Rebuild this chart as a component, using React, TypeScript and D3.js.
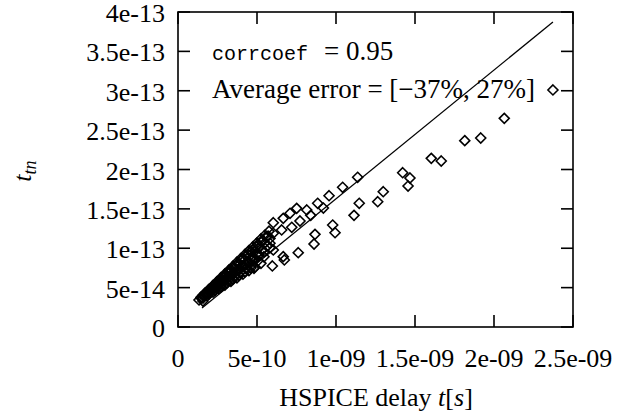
import React from 'react';
import * as d3 from 'd3';

const xTicks = [0, 5e-10, 1e-9, 1.5e-9, 2e-9, 2.5e-9];
const xTickLabels = ['0', '5e-10', '1e-09', '1.5e-09', '2e-09', '2.5e-09'];
const yTicks = [0, 5e-14, 1e-13, 1.5e-13, 2e-13, 2.5e-13, 3e-13, 3.5e-13, 4e-13];
const yTickLabels = ['0', '5e-14', '1e-13', '1.5e-13', '2e-13', '2.5e-13', '3e-13', '3.5e-13', '4e-13'];

// HSPICE delay (s)
const hspiceDelay = [
  2.373e-9, 2.065e-9, 1.916e-9, 1.815e-9, 1.666e-9, 1.603e-9, 1.422e-9, 1.468e-9, 1.456e-9,
  1.299e-9, 1.264e-9, 1.147e-9, 1.114e-9, 0.979e-9, 0.994e-9, 0.867e-9, 0.861e-9, 0.761e-9,
  0.673e-9, 0.597e-9, 0.481e-9,
  1.137e-9, 1.042e-9, 0.956e-9, 0.884e-9, 0.920e-9, 0.815e-9, 0.751e-9, 0.840e-9, 0.772e-9,
  0.720e-9, 0.709e-9, 0.666e-9, 0.656e-9, 0.603e-9, 0.666e-9, 0.582e-9, 0.603e-9, 0.603e-9,
  0.146e-9, 0.171e-9, 0.196e-9, 0.222e-9, 0.247e-9, 0.272e-9, 0.297e-9, 0.323e-9, 0.348e-9,
  0.373e-9, 0.399e-9, 0.424e-9, 0.449e-9, 0.475e-9, 0.500e-9, 0.525e-9, 0.551e-9, 0.576e-9,
  0.177e-9, 0.209e-9, 0.241e-9, 0.272e-9, 0.304e-9, 0.335e-9, 0.367e-9, 0.399e-9, 0.430e-9,
  0.462e-9, 0.494e-9, 0.525e-9, 0.557e-9,
  0.158e-9, 0.190e-9, 0.222e-9, 0.253e-9, 0.285e-9, 0.316e-9, 0.348e-9, 0.380e-9, 0.411e-9,
  0.443e-9, 0.475e-9, 0.506e-9, 0.538e-9, 0.570e-9,
  0.171e-9, 0.203e-9, 0.234e-9, 0.266e-9, 0.297e-9, 0.329e-9, 0.361e-9, 0.392e-9, 0.424e-9,
  0.456e-9, 0.487e-9, 0.519e-9, 0.551e-9, 0.582e-9,
  0.184e-9, 0.215e-9, 0.247e-9, 0.278e-9, 0.310e-9, 0.342e-9, 0.373e-9, 0.405e-9, 0.437e-9,
  0.468e-9, 0.500e-9, 0.532e-9, 0.563e-9,
  0.165e-9, 0.196e-9, 0.228e-9, 0.259e-9, 0.291e-9, 0.323e-9, 0.354e-9, 0.386e-9, 0.418e-9,
  0.449e-9, 0.481e-9, 0.513e-9,
  0.165e-9, 0.203e-9, 0.241e-9, 0.278e-9, 0.316e-9, 0.354e-9, 0.392e-9, 0.430e-9, 0.468e-9,
  0.506e-9, 0.544e-9, 0.582e-9,
  0.203e-9, 0.241e-9, 0.278e-9, 0.316e-9, 0.354e-9, 0.392e-9, 0.430e-9, 0.468e-9, 0.506e-9,
  0.544e-9,
  0.158e-9, 0.196e-9, 0.234e-9, 0.272e-9, 0.310e-9, 0.348e-9, 0.386e-9, 0.424e-9, 0.462e-9,
  0.184e-9, 0.222e-9, 0.259e-9, 0.297e-9, 0.335e-9, 0.373e-9, 0.411e-9, 0.449e-9, 0.487e-9,
  0.525e-9,
  0.133e-9, 0.158e-9, 0.146e-9,
];

// t_tn (s)
const ttn = [
  3.010e-13, 2.650e-13, 2.400e-13, 2.366e-13, 2.108e-13, 2.142e-13, 1.959e-13, 1.892e-13, 1.790e-13,
  1.718e-13, 1.591e-13, 1.571e-13, 1.418e-13, 1.295e-13, 1.197e-13, 1.177e-13, 1.054e-13, 0.943e-13,
  0.851e-13, 0.775e-13, 0.745e-13,
  1.901e-13, 1.774e-13, 1.667e-13, 1.571e-13, 1.511e-13, 1.486e-13, 1.507e-13, 1.418e-13, 1.346e-13,
  1.266e-13, 1.444e-13, 1.380e-13, 1.232e-13, 1.190e-13, 0.893e-13, 1.063e-13, 0.978e-13, 1.324e-13,
  0.379e-13, 0.429e-13, 0.478e-13, 0.527e-13, 0.577e-13, 0.626e-13, 0.675e-13, 0.724e-13, 0.773e-13,
  0.823e-13, 0.872e-13, 0.922e-13, 0.970e-13, 1.020e-13, 1.069e-13, 1.119e-13, 1.168e-13, 1.217e-13,
  0.427e-13, 0.487e-13, 0.547e-13, 0.606e-13, 0.666e-13, 0.726e-13, 0.785e-13, 0.845e-13, 0.905e-13,
  0.964e-13, 1.024e-13, 1.084e-13, 1.143e-13,
  0.403e-13, 0.461e-13, 0.518e-13, 0.576e-13, 0.634e-13, 0.692e-13, 0.750e-13, 0.807e-13, 0.865e-13,
  0.923e-13, 0.981e-13, 1.038e-13, 1.096e-13, 1.154e-13,
  0.422e-13, 0.476e-13, 0.530e-13, 0.584e-13, 0.638e-13, 0.692e-13, 0.746e-13, 0.800e-13, 0.854e-13,
  0.908e-13, 0.962e-13, 1.016e-13, 1.070e-13, 1.124e-13,
  0.431e-13, 0.481e-13, 0.530e-13, 0.580e-13, 0.629e-13, 0.679e-13, 0.728e-13, 0.778e-13, 0.827e-13,
  0.877e-13, 0.926e-13, 0.976e-13, 1.026e-13,
  0.394e-13, 0.441e-13, 0.489e-13, 0.537e-13, 0.584e-13, 0.632e-13, 0.679e-13, 0.727e-13, 0.775e-13,
  0.822e-13, 0.870e-13, 0.917e-13,
  0.405e-13, 0.460e-13, 0.514e-13, 0.569e-13, 0.625e-13, 0.679e-13, 0.734e-13, 0.789e-13, 0.843e-13,
  0.899e-13, 0.954e-13, 1.008e-13,
  0.439e-13, 0.490e-13, 0.540e-13, 0.590e-13, 0.641e-13, 0.691e-13, 0.741e-13, 0.791e-13, 0.842e-13,
  0.892e-13,
  0.367e-13, 0.415e-13, 0.463e-13, 0.511e-13, 0.559e-13, 0.607e-13, 0.655e-13, 0.703e-13, 0.751e-13,
  0.396e-13, 0.442e-13, 0.488e-13, 0.533e-13, 0.579e-13, 0.625e-13, 0.670e-13, 0.716e-13, 0.762e-13,
  0.808e-13,
  0.343e-13, 0.330e-13, 0.368e-13,
];

const fitLineX = [1.52e-10, 2.373e-9];
const fitLineY = [2.41e-14, 3.873e-13];

const W = 629;
const H = 419;
const left = 178, right = 573, top = 12, bottom = 327;
const serif = 'Liberation Serif';
const mono = 'Liberation Mono';

export default function App() {
  const x = d3.scaleLinear().domain([0, 2.5e-9]).range([left, right]);
  const y = d3.scaleLinear().domain([0, 4e-13]).range([bottom, top]);
  const tickLen = 12;
  const sw = 1.6;
  const r = 5;
  const diamond = (cx: number, cy: number) =>
    `M${cx},${cy - r}L${cx + r},${cy}L${cx},${cy + r}L${cx - r},${cy}Z`;
  const line = d3.line<number>().x((d, i) => x(fitLineX[i])).y((d, i) => y(fitLineY[i]));
  const fs = 26;

  return (
    <svg width={W} height={H} style={{ position: 'absolute', left: 0, top: 0, background: '#fff' }}>
      <rect x={0} y={0} width={W} height={H} fill="#fff" />
      <g fill="none" stroke="#000" strokeWidth={1.6}>
        {hspiceDelay.map((d, i) => (
          <path key={i} d={diamond(x(d), y(ttn[i]))} />
        ))}
      </g>
      <path d={line(fitLineX) || ''} fill="none" stroke="#000" strokeWidth={1.3} />
      <g stroke="#000" strokeWidth={sw}>
        {xTicks.map((t, i) => (
          <g key={'xt' + i}>
            <line x1={x(t)} x2={x(t)} y1={bottom} y2={bottom - tickLen} />
            <line x1={x(t)} x2={x(t)} y1={top} y2={top + tickLen} />
          </g>
        ))}
        {yTicks.map((t, i) => (
          <g key={'yt' + i}>
            <line x1={left} x2={left + tickLen} y1={y(t)} y2={y(t)} />
            <line x1={right} x2={right - tickLen} y1={y(t)} y2={y(t)} />
          </g>
        ))}
      </g>
      <rect x={left} y={top} width={right - left} height={bottom - top} fill="none" stroke="#000" strokeWidth={sw} />
      {xTicks.map((t, i) => (
        <text key={'xl' + i} x={x(t)} y={367} textAnchor="middle" fontFamily={serif} fontSize={fs}>
          {xTickLabels[i]}
        </text>
      ))}
      {yTicks.map((t, i) => (
        <text key={'yl' + i} x={165} y={y(t) + 10} textAnchor="end" fontFamily={serif} fontSize={fs}>
          {yTickLabels[i]}
        </text>
      ))}
      <text x={376} y={406} textAnchor="middle" fontFamily={serif} fontSize={fs}>
        HSPICE delay <tspan fontStyle="italic">t</tspan>[<tspan fontStyle="italic">s</tspan>]
      </text>
      <text transform="translate(31,171) rotate(-90)" textAnchor="middle" fontFamily={serif} fontSize={fs} fontStyle="italic">
        t<tspan fontSize={18} dy={5}>tn</tspan>
      </text>
      <text x={212} y={60} fontFamily={mono} fontSize={20}>corrcoef</text>
      <text x={324} y={60} fontFamily={serif} fontSize={27}>= 0.95</text>
      <text x={212} y={98} fontFamily={serif} fontSize={27}>
        Average error = [−37%, 27%]
      </text>
    </svg>
  );
}
